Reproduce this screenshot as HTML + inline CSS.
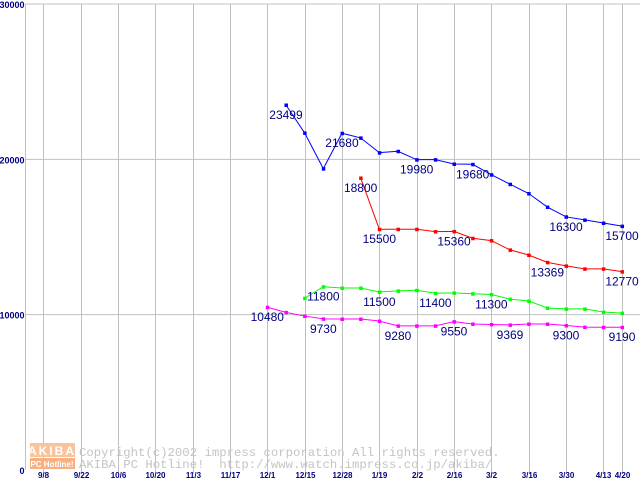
<!DOCTYPE html>
<html><head><meta charset="utf-8"><style>
body{margin:0;background:#fff;}
svg{display:block;}
text{font-family:"Liberation Sans",sans-serif;}
text.mono{font-family:"Liberation Mono",monospace;}
</style></head><body>
<svg id="chart" width="640" height="480" viewBox="0 0 640 480" xmlns="http://www.w3.org/2000/svg">
<g id="grid"></g>
<g id="wm">
 <rect x="30" y="443" width="45" height="14" fill="#f9c49c"/>
 <text x="52" y="455" font-size="12" font-weight="bold" fill="#fff" text-anchor="middle" letter-spacing="2">AKIBA</text>
 <rect x="30" y="458" width="45" height="11" fill="#f9b080"/>
 <text x="52" y="467" font-size="8" font-weight="bold" fill="#fff" text-anchor="middle">PC Hotline!</text>
 <text class="mono" x="79" y="456" font-size="12.3" fill="#c4c4c4">Copyright(c)2002 impress corporation All rights reserved.</text>
 <text class="mono" x="79" y="468" font-size="12.3" fill="#c4c4c4" xml:space="preserve">AKIBA PC Hotline!  http://www.watch.impress.co.jp/akiba/</text>
</g>
<g id="series"></g>
</svg>
<script>
const xLabels=["9/8","9/22","10/6","10/20","11/3","11/17","12/1","12/15","12/28","1/19","2/2","2/16","3/2","3/16","3/30","4/13","4/20"];
const yTicks=[0,10000,20000,30000];
const blueVals=[null,23499,21700,19400,21680,21380,20430,20520,19980,19980,19700,19680,19010,18400,17800,16930,16300,16100,15900,15700];
const redVals=[null,null,null,null,null,18800,15500,15500,15500,15350,15360,14920,14770,14170,13840,13369,13140,12950,12950,12770];
const greenVals=[null,null,11060,11800,11720,11720,11460,11530,11570,11380,11400,11350,11300,11000,10880,10430,10370,10370,10170,10100];
const magentaVals=[10480,10150,9910,9730,9720,9720,9590,9280,9280,9280,9550,9400,9369,9340,9400,9400,9300,9200,9190,9190];
const blueLabels=[[1,"23499"],[4,"21680"],[8,"19980"],[11,"19680"],[16,"16300"],[19,"15700"]];
const redLabels=[[5,"18800"],[6,"15500"],[10,"15360"],[15,"13369"],[19,"12770"]];
const greenLabels=[[3,"11800"],[6,"11500"],[9,"11400"],[12,"11300"]];
const magentaLabels=[[0,"10480"],[3,"9730"],[7,"9280"],[10,"9550"],[13,"9369"],[16,"9300"],[19,"9190"]];

const NS="http://www.w3.org/2000/svg";
const L=25.5,R=640,T=4,B=470;
function yS(v){return B-(v/30000)*(B-T);}
function xS(i){return 267.3+i*18.67;}
function xTick(k){return k<16?43.3+k*37.33:xS(19);}
function mk(tag,a,p){const e=document.createElementNS(NS,tag);for(const k in a)e.setAttribute(k,a[k]);p.appendChild(e);return e;}
const grid=document.getElementById('grid');
yTicks.forEach((v,i)=>{
 const y=yS(v);
 if(v>0){const ln=mk('line',{x1:L,x2:R,y1:y,y2:y,stroke:'#c0c0c0','stroke-width':1},grid);
 
 }
 const t=mk('text',{x:L-1,y:y+4,'font-size':9,'font-weight':'bold',fill:'#000080','text-anchor':'end'},grid);
 t.textContent=v;
 
 
});
const ax=mk('line',{x1:L,x2:L,y1:T,y2:B,stroke:'#c0c0c0','stroke-width':1},grid);


xLabels.forEach((s,k)=>{
 const x=Math.round(xTick(k))+0.5;
 const ln=mk('line',{x1:x,x2:x,y1:T,y2:474,stroke:'#c0c0c0','stroke-width':1},grid);
 
 
 const t=mk('text',{x:x,y:478,'font-size':8,'font-weight':'bold',fill:'#000080','text-anchor':'middle'},grid);
 t.textContent=s;
 
 
});
const sg=document.getElementById('series');
function draw(vals,col,labels,name){
 const pts=[];vals.forEach((v,i)=>{if(v!=null)pts.push([xS(i),yS(v)]);});
 const pl=mk('polyline',{points:pts.map(p=>p.join(',')).join(' '),fill:'none',stroke:col,'stroke-width':1},sg);
 
 
 pts.forEach(p=>{const r=mk('rect',{x:p[0]-1.5,y:p[1]-1.5,width:3.5,height:3.5,fill:col},sg);
  
  });
 labels.forEach(([i,s])=>{const t=mk('text',{x:xS(i),y:yS(vals[i])+14,'font-size':12,fill:'#000080','text-anchor':'middle'},sg);
  t.textContent=s;
  
  });
}
draw(blueVals,'#0000ff',blueLabels,'blue-series');
draw(redVals,'#ff0000',redLabels,'red-series');
draw(greenVals,'#00ff00',greenLabels,'green-series');
draw(magentaVals,'#ff00ff',magentaLabels,'magenta-series');
</script>
</body></html>
